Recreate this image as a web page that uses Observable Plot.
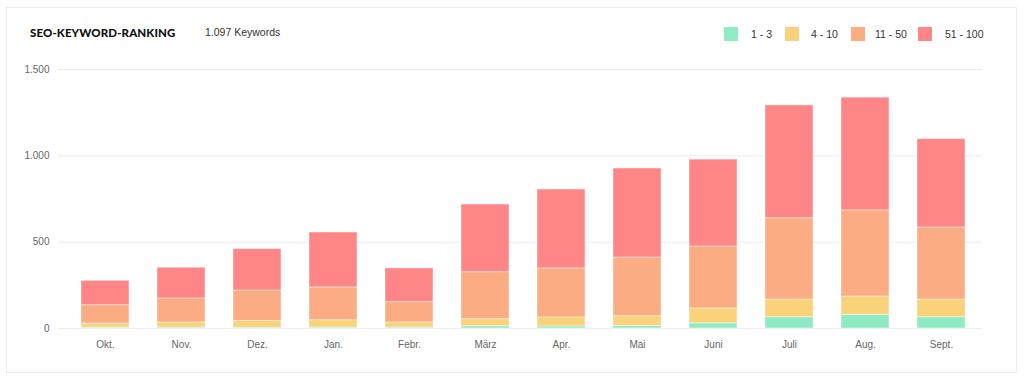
<!DOCTYPE html>
<html>
<head>
<meta charset="utf-8">
<script src="https://cdn.jsdelivr.net/npm/d3@7"></script>
<script src="https://cdn.jsdelivr.net/npm/@observablehq/plot@0.6"></script>
<style>
  html, body { margin: 0; padding: 0; background: #fff; }
  #page { position: relative; width: 1024px; height: 385px; overflow: hidden; }
  #card { position: absolute; left: 6px; top: 7px; width: 1009px; height: 364px; border: 1px solid #ececec; box-sizing: content-box; }
  #title { position: absolute; left: 30px; top: 26px; font-family: Lato, sans-serif; font-weight: 900; font-size: 11.5px; color: #111; letter-spacing: 0.1px; }
  #sub { position: absolute; left: 205px; top: 26px; font-family: "Liberation Sans", Arial, sans-serif; font-size: 10.5px; color: #333; }
  #legend { position: absolute; top: 27px; left: 0; font-family: "Liberation Sans", Arial, sans-serif; font-size: 10.5px; color: #333; }
  .sw { position: absolute; width: 14px; height: 14px; top: 0; }
  .lb { position: absolute; top: 1px; white-space: nowrap; }
  #chart { position: absolute; left: 0; top: 0; }
</style>
</head>
<body>
<div id="page">
  <div id="card"></div>
  <div id="chart"></div>
  <div id="title">SEO-KEYWORD-RANKING</div>
  <div id="sub">1.097 Keywords</div>
  <div id="legend"></div>
</div>
<script>
const months = ["Okt.", "Nov.", "Dez.", "Jan.", "Febr.", "März", "Apr.", "Mai", "Juni", "Juli", "Aug.", "Sept."];
const categories = ["1 - 3", "4 - 10", "11 - 50", "51 - 100"];
const colors = ["#8eebc4", "#fad27a", "#fcac82", "#fe8687"];
const top3 = [5, 5, 5, 6, 6, 13, 12, 15, 30, 65, 79, 65];
const top10 = [24, 30, 39, 42, 29, 41, 52, 56, 86, 103, 106, 103];
const top50 = [106, 139, 176, 190, 118, 272, 284, 340, 359, 471, 499, 417];
const top100 = [141, 178, 240, 318, 195, 392, 457, 516, 503, 653, 653, 512];
const yTicks = [0, 500, 1000, 1500];

const seriesValues = [top3, top10, top50, top100];
const data = [];
months.forEach((m, i) => {
  categories.forEach((c, j) => data.push({month: m, cat: c, value: seriesValues[j][i]}));
});

const fmt = d => d3.format(",")(d).replace(/,/g, ".");

const chart = Plot.plot({
  width: 1024,
  height: 385,
  marginTop: 69,
  marginBottom: 57,
  marginLeft: 65,
  marginRight: 43,
  style: {fontFamily: "'Liberation Sans', Arial, sans-serif", fontSize: "10px", color: "#666", background: "transparent"},
  x: {domain: months, paddingInner: 0.37, paddingOuter: 0.185, label: null},
  y: {domain: [0, 1500], label: null},
  color: {domain: categories, range: colors},
  marks: [
    Plot.ruleY(yTicks, {stroke: "#ececec", strokeWidth: 1, insetLeft: -7, insetRight: -1}),
    Plot.barY(data, Plot.stackY({order: categories}, {x: "month", y: "value", fill: "cat", stroke: "#fff", strokeOpacity: 0.45, strokeWidth: 1})),
    Plot.axisY(yTicks, {tickSize: 0, tickPadding: 16, tickFormat: fmt, fill: "#666", fontSize: 10, label: null}),
    Plot.axisX({tickSize: 0, tickPadding: 12, fill: "#666", fontSize: 10, label: null})
  ]
});
document.getElementById("chart").appendChild(chart);

const legend = document.getElementById("legend");
const swX = [724, 785, 851, 918];
const lbX = [751, 811, 875, 945];
categories.forEach((c, i) => {
  const s = document.createElement("div");
  s.className = "sw"; s.style.left = swX[i] + "px"; s.style.background = colors[i];
  legend.appendChild(s);
  const l = document.createElement("div");
  l.className = "lb"; l.style.left = lbX[i] + "px"; l.textContent = c;
  legend.appendChild(l);
});
</script>
</body>
</html>
